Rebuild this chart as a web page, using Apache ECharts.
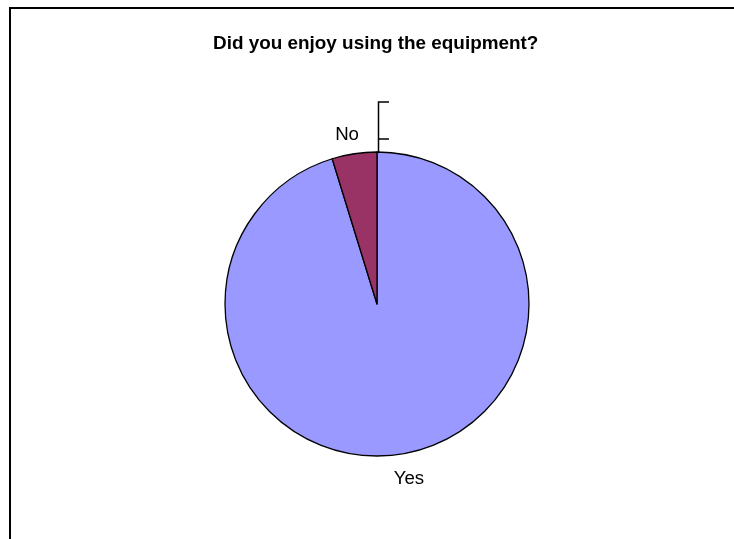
<!DOCTYPE html>
<html>
<head>
<meta charset="utf-8">
<script src="https://cdn.jsdelivr.net/npm/echarts@6/dist/echarts.min.js"></script>
<style>
  html, body { margin: 0; padding: 0; background: #fff; }
  #chart { width: 734px; height: 539px; }
</style>
</head>
<body>
<div id="chart"></div>
<script>
var answers = ['Yes', 'No'];
var counts = [20, 1];
var sliceColors = ['#9999FF', '#993366'];

var chart = echarts.init(document.getElementById('chart'));
var font = 'Arial, "Liberation Sans", sans-serif';

var option = {
  animation: false,
  title: {
    text: 'Did you enjoy using the equipment?',
    left: 208,
    top: 29,
    textStyle: { fontFamily: font, fontSize: 18.9, fontWeight: 'bold', color: '#000' }
  },
  graphic: [
    {
      type: 'rect',
      shape: { x: 10, y: 8, width: 800, height: 600 },
      style: { fill: 'none', stroke: '#000', lineWidth: 2 },
      silent: true
    },
    {
      // excel style bracket above the No slice
      type: 'polyline',
      shape: { points: [[389, 102], [378.5, 102], [378.5, 152]] },
      style: { fill: 'none', stroke: '#000', lineWidth: 1.5 },
      silent: true
    },
    {
      type: 'line',
      shape: { x1: 378.5, y1: 139, x2: 389, y2: 139 },
      style: { stroke: '#000', lineWidth: 1.5 },
      silent: true
    }
  ],
  series: [
    {
      type: 'pie',
      center: [377, 304],
      radius: 152,
      startAngle: 90,
      clockwise: true,
      avoidLabelOverlap: false,
      itemStyle: { borderColor: '#000', borderWidth: 1.3 },
      label: {
        show: true,
        position: 'outside',
        distanceToLabelLine: 0,
        fontFamily: font,
        fontSize: 18.67,
        color: '#000',
        formatter: '{b}'
      },
      labelLine: { show: false, length: 22, length2: 0 },
      labelLayout: function (p) {
        var left = p.align === 'left';
        var ax = left ? p.labelRect.x + 6 : p.labelRect.x + p.labelRect.width - 4;
        return {
          x: ax,
          y: p.labelRect.y + p.labelRect.height / 2 + 3,
          align: 'center',
          verticalAlign: 'middle'
        };
      },
      emphasis: { disabled: true },
      data: answers.map(function (a, i) {
        return { name: a, value: counts[i], itemStyle: { color: sliceColors[i] } };
      })
    }
  ]
};

chart.setOption(option);
</script>
</body>
</html>
